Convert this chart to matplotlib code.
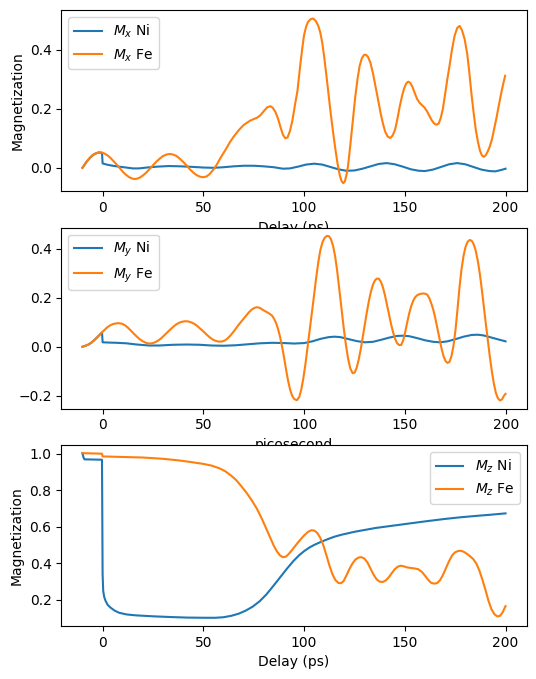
#%% Imports
import numpy as np
import matplotlib
matplotlib.use('Agg')
import matplotlib.pyplot as plt


#%% Data (delay in ps, magnetization)
# Mx
t_mx_ni = [-10, -8, -6, -4, -2, -0.3, 0, 2, 5, 8, 11.7, 15, 18, 22, 27, 33, 39, 45, 50, 55, 60, 65,
           70, 75, 80, 85, 89.5, 93, 97, 101, 105, 109, 113, 117, 121, 125, 129, 133, 137, 141, 145,
           149, 153, 157, 160, 164, 168, 172, 176, 180, 184, 188, 192, 195, 198, 200]
mx_ni = [0, 0.020, 0.036, 0.047, 0.052, 0.051, 0.015, 0.011, 0.007, 0.004, 0.001, -0.002, -0.002,
         0.001, 0.004, 0.006, 0.005, 0.003, 0.001, 0.000, 0.002, 0.005, 0.007, 0.007, 0.005, 0.002,
         -0.003, -0.002, 0.004, 0.011, 0.014, 0.011, 0.003, -0.005, -0.010, -0.009, -0.003, 0.005,
         0.013, 0.016, 0.012, 0.004, -0.005, -0.010, -0.011, -0.006, 0.003, 0.012, 0.016, 0.012,
         0.003, -0.006, -0.011, -0.012, -0.007, -0.003]
t_mx_fe = [-10, -9, -8, -7, -6, -5, -4, -3, -2, -1, 0, 1, 2.5, 4, 5.5, 7, 8.5, 10, 11.5, 13, 14.5,
           15.8, 17, 18.5, 20, 21.7, 23.3, 25, 26.7, 28.5, 30, 31.7, 33.3, 35, 36.7, 38.3, 40, 41.7,
           43.3, 45, 46.7, 48.3, 50, 51.7, 53.3, 55, 56.7, 58.3, 60, 61.7, 63.3, 65, 66.7, 68.3, 70,
           71.7, 73.3, 75, 76.7, 78.3, 80, 81.7, 83.3, 84.5, 85.8, 87, 88.3, 89.5, 90.7, 91.8, 93,
           94.2, 95.4, 96.7, 97.5, 98.3, 99.2, 100, 101, 102, 103.3, 104.5, 105.8, 107, 108, 109,
           110, 111.1, 112.2, 113.3, 114.4, 115.5, 116.6, 117.7, 118.6, 119.5, 120.3, 121, 121.8,
           123, 124.3, 125.4, 126.5, 127.6, 128.7, 129.8, 130.8, 131.8, 133, 134.2, 135.5, 136.7,
           138, 139.2, 140.3, 141.5, 142.8, 144, 145.2, 146.3, 147.4, 148.5, 149.6, 150.7, 151.7,
           152.7, 153.8, 155, 156.2, 157.4, 158.6, 159.8, 161, 162.2, 163.4, 164.6, 165.7, 166.8,
           167.8, 168.9, 170, 171.1, 172.2, 173.4, 174.7, 176, 177.2, 178.4, 179.7, 181, 182, 183,
           184.1, 185.2, 186.3, 187.3, 188.3, 189.2, 190.2, 191.2, 192.1, 193.2, 194.3, 195.4,
           196.5, 197.6, 198.7, 199.8]
mx_fe = [0, 0.010, 0.020, 0.029, 0.036, 0.043, 0.047, 0.050, 0.052, 0.052, 0.051, 0.048, 0.042,
         0.033, 0.022, 0.011, -0.001, -0.013, -0.023, -0.031, -0.036, -0.038, -0.037, -0.033,
         -0.026, -0.016, -0.004, 0.009, 0.021, 0.032, 0.040, 0.045, 0.047, 0.045, 0.040, 0.031,
         0.020, 0.008, -0.005, -0.016, -0.025, -0.030, -0.032, -0.029, -0.020, -0.006, 0.011,
         0.031, 0.050, 0.069, 0.088, 0.105, 0.120, 0.133, 0.145, 0.153, 0.160, 0.165, 0.170,
         0.178, 0.192, 0.205, 0.209, 0.203, 0.189, 0.168, 0.138, 0.112, 0.100, 0.103, 0.125,
         0.160, 0.210, 0.260, 0.310, 0.360, 0.410, 0.450, 0.478, 0.495, 0.504, 0.506, 0.498,
         0.482, 0.460, 0.425, 0.375, 0.312, 0.245, 0.180, 0.121, 0.065, 0.015, -0.025, -0.045,
         -0.052, -0.045, -0.025, 0.005, 0.080, 0.166, 0.240, 0.300, 0.346, 0.372, 0.383, 0.383,
         0.375, 0.355, 0.320, 0.275, 0.232, 0.185, 0.148, 0.122, 0.106, 0.101, 0.110, 0.130,
         0.165, 0.205, 0.240, 0.268, 0.286, 0.292, 0.288, 0.274, 0.252, 0.232, 0.220, 0.212,
         0.204, 0.192, 0.176, 0.161, 0.150, 0.146, 0.150, 0.168, 0.200, 0.250, 0.300, 0.346,
         0.400, 0.447, 0.474, 0.481, 0.466, 0.436, 0.385, 0.325, 0.256, 0.190, 0.130, 0.088,
         0.058, 0.042, 0.037, 0.043, 0.056, 0.071, 0.095, 0.130, 0.166, 0.205, 0.245, 0.280, 0.312]

# My
t_my_ni = [-10, -8.5, -7, -5.5, -4, -2.5, -1, -0.3, 0, 3, 7, 11.7, 17, 23, 28, 35, 41.7, 48, 54, 60,
           66, 72, 78, 84, 90, 95, 100, 104, 108, 112, 115, 118, 122, 126, 130, 134, 138, 142, 146,
           149, 152, 156, 160, 164, 167.3, 171, 175, 179, 183, 186, 189, 193, 197, 199.8]
my_ni = [0, 0.004, 0.009, 0.017, 0.028, 0.040, 0.053, 0.058, 0.018, 0.017, 0.016, 0.014, 0.009,
         0.005, 0.005, 0.008, 0.009, 0.008, 0.005, 0.004, 0.006, 0.010, 0.014, 0.016, 0.015, 0.013,
         0.015, 0.022, 0.032, 0.039, 0.041, 0.039, 0.031, 0.023, 0.018, 0.020, 0.028, 0.037, 0.044,
         0.045, 0.043, 0.035, 0.026, 0.020, 0.018, 0.022, 0.031, 0.041, 0.048, 0.049, 0.046, 0.037,
         0.028, 0.022]
t_my_fe = [-10, -8.5, -7, -5.5, -4, -2.5, -1, 0.5, 2, 3.5, 5, 6.5, 8, 9.5, 11, 12.5, 14, 15.5, 17,
           18.5, 20, 21.5, 23, 24.5, 26, 27.5, 29, 30.5, 32, 33.5, 35, 36.5, 38, 39.5, 41, 42.5, 44,
           45.5, 47, 48.5, 50, 51.5, 53, 54.5, 56, 57.5, 59, 60.5, 62, 63.5, 65, 66.5, 68, 69.5, 71,
           72.5, 74, 75.5, 76.7, 78, 79.5, 81, 82.5, 84, 85, 86, 87, 88, 89, 90, 91, 92, 93, 94, 95,
           96.3, 97.5, 98.5, 99.5, 100.5, 101.5, 102.5, 103.6, 104.7, 105.8, 106.9, 108, 109.1,
           110.2, 111.3, 112.3, 113.3, 114.3, 115.3, 116.3, 117.3, 118.4, 119.5, 120.6, 121.7,
           122.8, 124, 125, 126, 127, 128, 129, 130, 131, 132, 133, 134, 135, 136, 137, 138, 139,
           140, 141, 142, 143, 144, 145, 146, 147, 148, 149, 150, 151, 152, 153, 154, 155, 156, 157,
           158, 159, 160, 161, 162, 163, 164, 165, 166, 167, 168, 169, 170, 171, 172, 173, 174, 175,
           176, 177, 178, 179, 180, 181, 182, 183, 184, 185, 186, 187, 188, 189, 190, 191, 192, 193,
           194, 195, 196, 197, 198, 199, 199.8]
my_fe = [0, 0.004, 0.009, 0.017, 0.028, 0.040, 0.053, 0.065, 0.077, 0.086, 0.092, 0.095, 0.096,
         0.094, 0.088, 0.078, 0.066, 0.053, 0.041, 0.030, 0.022, 0.016, 0.013, 0.014, 0.018, 0.025,
         0.034, 0.046, 0.058, 0.070, 0.081, 0.091, 0.098, 0.102, 0.104, 0.103, 0.099, 0.093, 0.084,
         0.073, 0.062, 0.050, 0.039, 0.030, 0.024, 0.021, 0.021, 0.025, 0.034, 0.047, 0.062, 0.079,
         0.095, 0.110, 0.125, 0.140, 0.152, 0.159, 0.161, 0.158, 0.150, 0.143, 0.136, 0.127, 0.114,
         0.097, 0.072, 0.040, 0.000, -0.045, -0.095, -0.140, -0.176, -0.200, -0.213, -0.218,
         -0.205, -0.175, -0.130, -0.075, -0.010, 0.055, 0.125, 0.200, 0.275, 0.342, 0.395, 0.428,
         0.445, 0.452, 0.450, 0.437, 0.410, 0.368, 0.310, 0.240, 0.160, 0.080, 0.010, -0.048,
         -0.088, -0.108, -0.105, -0.085, -0.052, -0.010, 0.040, 0.092, 0.140, 0.185, 0.223, 0.252,
         0.270, 0.278, 0.277, 0.265, 0.242, 0.210, 0.172, 0.132, 0.093, 0.060, 0.033, 0.015, 0.007,
         0.007, 0.025, 0.058, 0.098, 0.135, 0.165, 0.187, 0.202, 0.210, 0.214, 0.216, 0.217,
         0.216, 0.212, 0.198, 0.176, 0.150, 0.115, 0.075, 0.033, -0.005, -0.037, -0.058, -0.066,
         -0.062, -0.038, 0.005, 0.070, 0.155, 0.245, 0.318, 0.372, 0.408, 0.428, 0.435, 0.432,
         0.418, 0.392, 0.352, 0.300, 0.236, 0.165, 0.095, 0.028, -0.040, -0.100, -0.150, -0.188,
         -0.210, -0.219, -0.215, -0.200, -0.192]

# Mz
t_mz_ni = [-10, -9.5, -9, -0.3, 0, 0.3, 0.8, 1.5, 2.5, 4, 6, 8.3, 12, 16.8, 25, 33.8, 42, 50.7, 56,
           60, 64, 67.7, 71, 74.5, 78, 81.3, 84.5, 88, 91.5, 94.8, 97.5, 99.9, 102.5, 105, 108, 111.8,
           115, 118.6, 125, 135.5, 145, 152.5, 160, 169.5, 178, 186.4, 193, 200]
mz_ni = [1.003, 0.98, 0.969, 0.967, 0.34, 0.248, 0.215, 0.193, 0.172, 0.156, 0.140, 0.128, 0.119,
         0.114, 0.109, 0.105, 0.102, 0.101, 0.101, 0.104, 0.112, 0.124, 0.140, 0.162, 0.192, 0.229,
         0.272, 0.321, 0.370, 0.413, 0.443, 0.465, 0.485, 0.500, 0.515, 0.532, 0.545, 0.556, 0.572,
         0.593, 0.607, 0.618, 0.629, 0.642, 0.652, 0.660, 0.666, 0.673]
t_mz_fe = [-10, -0.3, 0, 10, 20, 30, 38, 44, 50, 54, 58, 61, 64, 66.5, 69, 71.5, 74, 76.5, 79, 81, 83,
           85, 86.5, 88, 89.5, 91, 92.5, 94, 96, 98, 100, 102, 103.7, 105.2, 106.6, 108, 109.5, 111,
           112.5, 114, 115.5, 117, 118.3, 119.6, 121, 122.5, 124, 125.5, 127, 128.5, 130, 131.5, 133,
           134.5, 136, 137.5, 139, 140.5, 142, 143.5, 145, 146.5, 148, 149.5, 151, 153, 155, 156.7,
           158.5, 160, 161.5, 163, 164.5, 166, 167.5, 169, 170.5, 172, 173.5, 175, 176.5, 178, 179.5,
           181, 182.5, 184, 185.5, 187, 188.5, 190, 191.5, 193, 194.5, 196, 197.3, 198.5, 200]
mz_fe = [1.003, 1.0, 0.985, 0.982, 0.979, 0.972, 0.963, 0.954, 0.944, 0.935, 0.920, 0.903, 0.878,
         0.853, 0.820, 0.785, 0.745, 0.700, 0.645, 0.595, 0.545, 0.495, 0.465, 0.443, 0.433, 0.436,
         0.452, 0.472, 0.500, 0.527, 0.552, 0.572, 0.581, 0.578, 0.565, 0.540, 0.500, 0.447, 0.390,
         0.342, 0.308, 0.292, 0.290, 0.302, 0.332, 0.368, 0.398, 0.420, 0.431, 0.433, 0.425, 0.403,
         0.370, 0.337, 0.312, 0.299, 0.297, 0.305, 0.322, 0.345, 0.367, 0.381, 0.386, 0.383, 0.377,
         0.374, 0.371, 0.367, 0.352, 0.332, 0.310, 0.293, 0.288, 0.291, 0.307, 0.337, 0.375, 0.412,
         0.443, 0.460, 0.467, 0.468, 0.461, 0.450, 0.437, 0.422, 0.398, 0.360, 0.310, 0.255, 0.195,
         0.148, 0.120, 0.108, 0.112, 0.130, 0.165]


#%% Plot
figure, axes = plt.subplots(nrows = 3, ncols = 1, figsize = (5.36, 6.79), dpi = 100)
figure.subplots_adjust(left = 61.3 / 536, right = 526.7 / 536, top = 1 - 10.3 / 679,
                       bottom = 1 - 626 / 679, hspace = 0.2)

ax = axes[0]
ax.plot(t_mx_ni, mx_ni, label = '$M_x$ Ni')
ax.plot(t_mx_fe, mx_fe, label = '$M_x$ Fe')
ax.set_xlabel('Delay (ps)')
ax.set_ylabel('Magnetization')
ax.legend(loc = 'upper left')

ax = axes[1]
ax.plot(t_my_ni, my_ni, label = '$M_y$ Ni')
ax.plot(t_my_fe, my_fe, label = '$M_y$ Fe')
ax.set_xlabel('picosecond')
ax.legend(loc = 'upper left')

ax = axes[2]
ax.plot(t_mz_ni, mz_ni, label = '$M_z$ Ni')
ax.plot(t_mz_fe, mz_fe, label = '$M_z$ Fe')
ax.set_xlabel('Delay (ps)')
ax.set_ylabel('Magnetization')
ax.legend(loc = 'upper right')

figure.savefig('out.png')
